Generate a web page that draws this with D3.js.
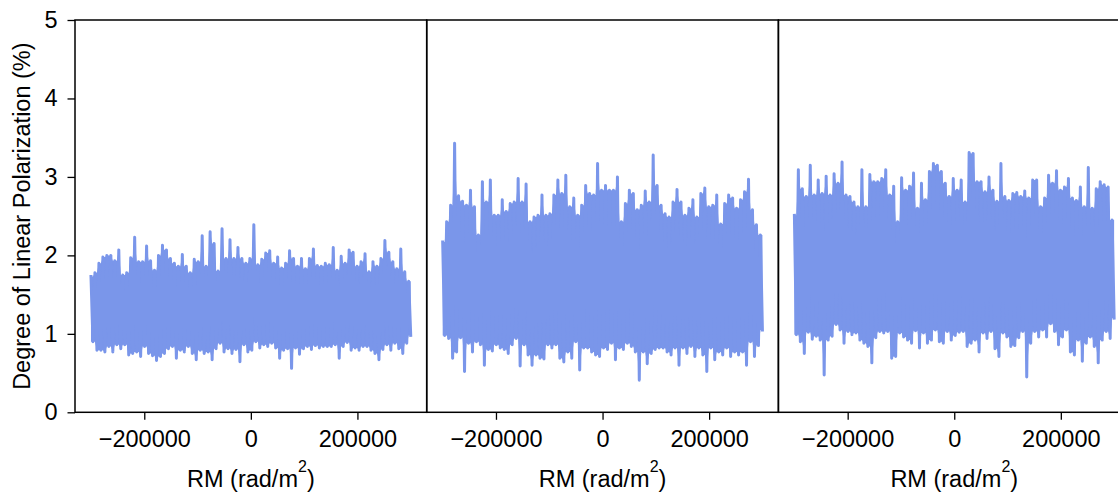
<!DOCTYPE html>
<html>
<head>
<meta charset="utf-8">
<script src="https://cdn.jsdelivr.net/npm/d3@7"></script>
<style>
  body { margin: 0; background: #fff; }
  text { font-family: "Liberation Sans", Arial, Helvetica, sans-serif; fill: #000; }
</style>
</head>
<body>
<svg id="chart" width="1118" height="496"></svg>
<script>
// Faraday-depth spectra: degree of linear polarization vs rotation measure.
// Each spectrum is stored as its upper and lower excursions sampled along RM.
const rmRange = [-300000, 300000];
const xTicks = [-200000, 0, 200000];
const yTicks = [0, 1, 2, 3, 4, 5];

const p1Upper = [1.73,1.78,1.90,1.98,2.00,2.00,1.93,2.07,1.75,1.78,1.97,2.23,1.92,1.92,2.12,1.93,1.81,2.00,2.13,2.07,1.96,1.90,1.86,2.01,1.86,1.78,1.95,1.92,2.25,1.86,2.30,2.15,1.80,2.34,1.96,2.20,1.96,2.10,1.96,1.90,1.96,
  2.39,1.88,1.95,2.03,2.06,1.90,1.98,1.84,1.90,2.06,1.96,1.86,1.96,1.83,1.96,2.08,1.87,1.86,1.90,1.88,2.10,1.81,1.99,1.90,2.07,2.04,1.86,1.92,2.02,1.79,1.92,1.86,1.96,2.19,2.04,1.92,1.83,2.08,1.79,1.67];
const p1Lower = [0.90,0.79,0.79,0.77,0.84,0.77,0.86,0.81,0.86,0.73,0.75,0.77,0.71,0.84,0.75,0.72,0.66,0.71,0.75,0.81,0.84,0.69,0.79,0.77,0.84,0.75,0.67,0.79,0.75,0.77,0.67,0.81,0.88,0.77,0.81,0.75,0.80,0.645,0.86,0.77,0.79,
  0.90,0.82,0.86,0.84,0.88,0.82,0.69,0.79,0.81,0.56,0.82,0.74,0.81,0.84,0.80,0.85,0.82,0.84,0.84,0.84,0.86,0.69,0.84,0.89,0.79,0.82,0.79,0.84,0.84,0.79,0.75,0.67,0.80,0.86,0.79,0.88,0.81,0.75,0.88,0.98];

const p2Upper = [2.17,2.43,2.64,3.43,2.76,2.69,2.64,2.83,2.62,2.26,2.94,2.68,2.96,2.51,2.51,2.71,2.56,2.66,2.68,2.98,2.68,2.91,2.43,2.49,2.51,2.77,2.51,2.53,2.77,2.96,2.79,3.02,2.62,2.73,2.51,2.64,2.89,2.79,2.77,3.17,2.83,
  2.89,2.83,2.83,3.00,2.43,2.66,2.83,2.79,2.58,2.64,2.82,2.68,3.28,2.89,2.64,2.53,2.49,2.68,2.84,2.68,2.51,2.60,2.71,2.49,2.79,2.86,2.62,2.64,2.77,2.40,2.66,2.77,2.73,2.60,2.71,2.81,2.97,2.58,2.39,2.26];
const p2Lower = [0.98,0.94,0.69,0.77,0.95,0.52,0.88,0.77,0.90,0.86,0.60,0.80,0.78,0.86,0.82,0.80,0.75,0.86,0.94,0.59,0.86,0.73,0.60,0.73,0.69,0.68,0.86,0.82,0.86,0.69,0.64,0.77,0.69,0.90,0.54,0.82,0.82,0.77,0.73,0.71,0.82,
  0.80,0.88,0.67,0.82,0.80,0.88,0.84,0.77,0.41,0.77,0.62,0.75,0.80,0.82,0.82,0.77,0.73,0.82,0.60,0.82,0.75,0.84,0.71,0.82,0.73,0.52,0.82,0.67,0.77,0.73,0.82,0.71,0.77,0.73,0.77,0.60,0.90,0.71,0.85,1.05];

const p3Upper = [2.51,3.09,2.85,2.75,3.15,2.77,2.96,2.79,3.01,2.77,3.04,2.92,3.19,2.77,2.75,2.68,2.62,3.09,2.62,3.03,2.94,2.94,2.98,3.09,2.77,2.88,2.43,2.99,2.83,2.88,3.05,2.60,2.92,2.71,3.07,3.17,3.15,3.07,2.92,2.75,
  2.98,2.83,2.96,2.68,3.31,3.30,2.94,2.94,2.81,3.00,2.83,2.69,3.17,2.75,2.70,2.79,2.80,2.75,2.82,2.73,2.96,2.96,2.62,2.73,3.02,2.92,3.08,2.83,2.87,2.98,2.73,2.70,2.87,2.62,3.12,2.60,2.85,2.94,2.90,2.87,2.45];
const p3Lower = [0.99,0.90,0.75,1.02,0.93,0.97,0.92,0.475,0.92,0.97,1.12,1.05,0.88,1.03,0.99,1.01,0.92,0.88,0.84,0.63,0.95,1.03,1.01,1.03,0.69,0.71,1.01,0.96,0.92,0.88,1.04,0.82,1.01,0.88,0.92,1.05,0.90,0.88,1.03,0.92,
  0.98,1.02,1.03,0.84,0.88,0.92,0.77,1.01,0.94,1.03,0.81,0.71,1.01,0.96,0.84,0.85,0.95,1.03,0.45,0.88,1.03,0.96,1.05,0.96,1.13,1.03,0.86,0.96,1.05,0.77,0.73,0.92,0.65,0.88,0.96,0.84,0.63,0.92,1.03,0.94,1.20];

const panels = [
  { upper: p1Upper, lower: p1Lower },
  { upper: p2Upper, lower: p2Lower },
  { upper: p3Upper, lower: p3Lower }
];

// Layout
const marginLeft = 75, marginTop = 20;
const panelW = 351.7, plotH = 392.3;
const lineColor = "#7A96EA";
const fontSize = 23.5;

const svg = d3.select("#chart");
const y = d3.scaleLinear().domain([0, 5]).range([marginTop + plotH, marginTop]);

// Interleave upper/lower excursions on an evenly spaced RM grid.
// "top"/"bot" give the band the dense trace always covers between samples.
function spectrum(upper, lower) {
  const n = upper.length * 2;
  const rm = d3.scaleLinear().domain([0, n - 1]).range(rmRange);
  const m = upper.length;
  const pts = [];
  for (let i = 0; i < m; i++) {
    const lPrev = i > 0 ? lower[i - 1] : lower[i];
    const uNext = i < m - 1 ? upper[i + 1] : upper[i];
    pts.push({ rm: rm(2 * i), v: upper[i], top: upper[i], bot: Math.max(lPrev, lower[i]) });
    pts.push({ rm: rm(2 * i + 1), v: lower[i], top: Math.min(upper[i], uNext), bot: lower[i] });
  }
  return pts;
}

panels.forEach((p, k) => {
  const x0 = marginLeft + k * panelW;
  const x = d3.scaleLinear().domain([-330000, 330000]).range([x0, x0 + panelW]);
  const g = svg.append("g");
  const pts = spectrum(p.upper, p.lower);

  g.append("path")
    .datum(pts)
    .attr("d", d3.area().x(d => x(d.rm)).y0(d => y(d.bot)).y1(d => y(d.top)))
    .attr("fill", lineColor);

  g.append("path")
    .datum(pts)
    .attr("d", d3.line().x(d => x(d.rm)).y(d => y(d.v)))
    .attr("fill", "none")
    .attr("stroke", lineColor)
    .attr("stroke-width", 3)
    .attr("stroke-linejoin", "round")
    .attr("stroke-linecap", "square");

  // Frame
  g.append("rect")
    .attr("x", x0).attr("y", marginTop)
    .attr("width", panelW).attr("height", plotH)
    .attr("fill", "none").attr("stroke", "#000").attr("stroke-width", 1.5);

  // Bottom axis
  const ax = g.append("g")
    .attr("transform", `translate(0,${marginTop + plotH})`)
    .call(d3.axisBottom(x).tickValues(xTicks).tickSize(7.5).tickPadding(10.2)
      .tickFormat(d3.format("d")));
  ax.select(".domain").remove();
  ax.selectAll(".tick line").attr("stroke", "#000").attr("stroke-width", 1.3);
  ax.selectAll(".tick text").attr("font-size", fontSize).attr("font-family", null);

  // Axis title with superscript
  const t = g.append("text")
    .attr("x", x0 + panelW / 2).attr("y", 487.3)
    .attr("text-anchor", "middle")
    .attr("font-size", fontSize);
  t.append("tspan").text("RM (rad/m");
  t.append("tspan").attr("dy", -15.5).attr("font-size", 16).text("2");
  t.append("tspan").attr("dy", 15.5).text(")");

  if (k === 0) {
    const ay = g.append("g")
      .attr("transform", `translate(${x0},0)`)
      .call(d3.axisLeft(y).tickValues(yTicks).tickSize(7.5).tickPadding(10)
        .tickFormat(d3.format("d")));
    ay.select(".domain").remove();
    ay.selectAll(".tick line").attr("stroke", "#000").attr("stroke-width", 1.3);
    ay.selectAll(".tick text").attr("font-size", fontSize).attr("font-family", null);
  }
});

svg.append("text")
  .attr("transform", `translate(30,${marginTop + plotH / 2}) rotate(-90)`)
  .attr("text-anchor", "middle")
  .attr("font-size", fontSize)
  .text("Degree of Linear Polarization (%)");
</script>
</body>
</html>
